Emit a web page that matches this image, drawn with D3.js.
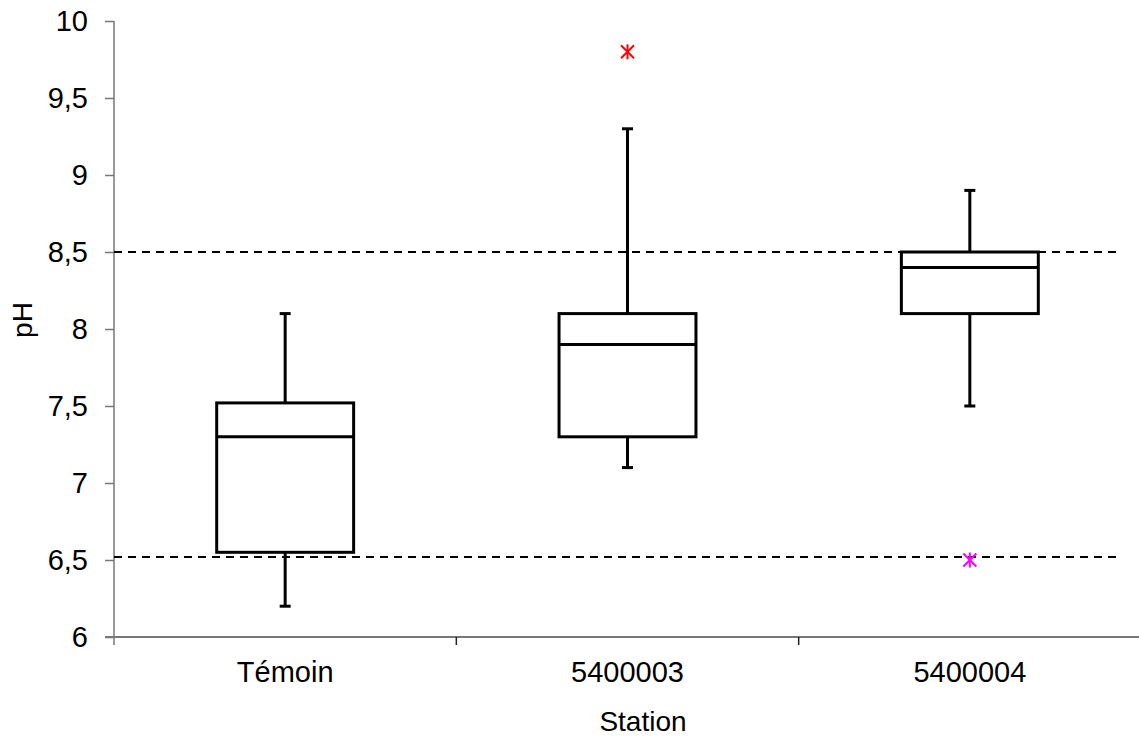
<!DOCTYPE html>
<html>
<head>
<meta charset="utf-8">
<script src="https://cdn.jsdelivr.net/npm/d3@7"></script>
<style>
  body { margin: 0; background: #fff; }
  svg { display: block; }
  text { font-family: "Liberation Sans", Arial, sans-serif; fill: #000; }
</style>
</head>
<body>
<svg id="chart" width="1139" height="738"></svg>
<script>
// ---- data ----
const categories = ["Témoin", "5400003", "5400004"];
const whiskerLow  = [6.2, 7.1, 7.5];
const q1          = [6.55, 7.3, 8.1];
const median      = [7.3, 7.9, 8.4];
const q3          = [7.52, 8.1, 8.5];
const whiskerHigh = [8.1, 9.3, 8.9];
const outlierCat  = ["5400003", "5400004"];
const outlierVal  = [9.8, 6.5];
const outlierColor = ["#ff0000", "#ff00ff"];
const refLines = [8.5, 6.52];
const yTicks = [6, 6.5, 7, 7.5, 8, 8.5, 9, 9.5, 10];
const yTitle = "pH";
const xTitle = "Station";

const svg = d3.select("#chart");
const x0 = 114, x1 = 1141, yTop = 21, yBot = 637;

const x = d3.scaleBand().domain(categories).range([x0, x1]).paddingInner(0).paddingOuter(0);
const y = d3.scaleLinear().domain([6, 10]).range([yBot, yTop]);

const loc = d3.formatLocale({decimal: ",", thousands: " ", grouping: [3], currency: ["", " €"]});
const fmt = loc.format("~g");

// Y axis
const yAxis = svg.append("g").attr("transform", `translate(${x0},0)`)
  .call(d3.axisLeft(y).tickValues(yTicks).tickFormat(fmt).tickSize(9).tickPadding(17));
yAxis.select(".domain").remove();
yAxis.selectAll(".tick line").attr("stroke", "#777").attr("stroke-width", 1.5);
yAxis.selectAll(".tick text").style("font-size", "29px").attr("font-family", "Liberation Sans, Arial, sans-serif");
svg.append("line").attr("x1", x0).attr("x2", x0).attr("y1", yTop).attr("y2", yBot + 8)
  .attr("stroke", "#777").attr("stroke-width", 1.5);

// X axis
svg.append("line").attr("x1", x0 - 9).attr("x2", 1139).attr("y1", yBot).attr("y2", yBot)
  .attr("stroke", "#777").attr("stroke-width", 2);
const bounds = categories.slice(1).map(c => x(c));
svg.selectAll(".xtick").data(bounds).enter().append("line")
  .attr("x1", d => d).attr("x2", d => d).attr("y1", yBot).attr("y2", yBot + 8)
  .attr("stroke", "#222").attr("stroke-width", 1.5);
svg.selectAll(".xlab").data(categories).enter().append("text")
  .attr("x", d => x(d) + x.bandwidth() / 2).attr("y", 682)
  .attr("text-anchor", "middle").style("font-size", "29px").text(d => d);

// Titles
svg.append("text").attr("x", 643).attr("y", 731)
  .attr("text-anchor", "middle").style("font-size", "28px").text(xTitle);
svg.append("text").attr("transform", `translate(32,320) rotate(-90)`)
  .attr("text-anchor", "middle").style("font-size", "28px").text(yTitle);

// Reference lines
svg.selectAll(".ref").data(refLines).enter().append("line")
  .attr("x1", x0).attr("x2", 1118).attr("y1", d => y(d)).attr("y2", d => y(d))
  .attr("stroke", "#000").attr("stroke-width", 2).attr("stroke-dasharray", "8,6");

// Boxes
const boxW = x.bandwidth() * 0.4;
const capW = 11;
const sw = 3;
categories.forEach((c, i) => {
  const cx = x(c) + x.bandwidth() / 2;
  const g = svg.append("g");
  g.append("line").attr("x1", cx).attr("x2", cx).attr("y1", y(whiskerHigh[i])).attr("y2", y(q3[i]))
    .attr("stroke", "#000").attr("stroke-width", sw);
  g.append("line").attr("x1", cx).attr("x2", cx).attr("y1", y(q1[i])).attr("y2", y(whiskerLow[i]))
    .attr("stroke", "#000").attr("stroke-width", sw);
  [whiskerHigh[i], whiskerLow[i]].forEach(v => {
    g.append("line").attr("x1", cx - capW / 2).attr("x2", cx + capW / 2).attr("y1", y(v)).attr("y2", y(v))
      .attr("stroke", "#000").attr("stroke-width", sw);
  });
  g.append("rect").attr("x", cx - boxW / 2).attr("width", boxW)
    .attr("y", y(q3[i])).attr("height", y(q1[i]) - y(q3[i]))
    .attr("fill", "none").attr("stroke", "#000").attr("stroke-width", sw);
  g.append("line").attr("x1", cx - boxW / 2).attr("x2", cx + boxW / 2).attr("y1", y(median[i])).attr("y2", y(median[i]))
    .attr("stroke", "#000").attr("stroke-width", sw);
});

// Outliers (asterisks)
outlierCat.forEach((c, i) => {
  const cx = x(c) + x.bandwidth() / 2, cy = y(outlierVal[i]);
  const r = 6.5;
  const g = svg.append("g").attr("stroke", outlierColor[i]).attr("stroke-width", 2);
  g.append("line").attr("x1", cx - r).attr("y1", cy - r).attr("x2", cx + r).attr("y2", cy + r);
  g.append("line").attr("x1", cx - r).attr("y1", cy + r).attr("x2", cx + r).attr("y2", cy - r);
  g.append("line").attr("x1", cx).attr("y1", cy - r - 1).attr("x2", cx).attr("y2", cy + r + 1);
});
</script>
</body>
</html>
